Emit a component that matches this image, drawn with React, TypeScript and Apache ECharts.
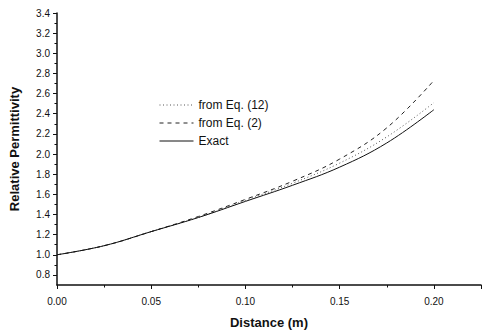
import React, { useEffect, useRef } from "react";
import * as echarts from "echarts";

const distance = [0, 0.025, 0.05, 0.075, 0.1, 0.125, 0.15, 0.175, 0.2];
const eq12 = [1.0, 1.09, 1.23, 1.37, 1.54, 1.71, 1.91, 2.17, 2.51];
const eq2 = [1.0, 1.09, 1.23, 1.38, 1.55, 1.73, 1.95, 2.26, 2.73];
const exact = [1.0, 1.09, 1.23, 1.37, 1.53, 1.69, 1.87, 2.11, 2.44];
const seriesNames = ["from Eq. (12)", "from Eq. (2)", "Exact"];
const yMajorTicks = [0.8, 1.0, 1.2, 1.4, 1.6, 1.8, 2.0, 2.2, 2.4, 2.6, 2.8, 3.0, 3.2, 3.4];
const yMinorTicks = [0.9, 1.1, 1.3, 1.5, 1.7, 1.9, 2.1, 2.3, 2.5, 2.7, 2.9, 3.1, 3.3];

const FONT = "Liberation Sans, Arial, sans-serif";

export default function App() {
  const ref = useRef<HTMLDivElement>(null);
  useEffect(() => {
    if (!ref.current) return;
    const chart = echarts.init(ref.current, null, { renderer: "svg" });
    const pairs = (ys: number[]) => distance.map((x, i) => [x, ys[i]]);
    const mk = (name: string, ys: number[], type: any, color: string) => ({
      name,
      type: "line",
      data: pairs(ys),
      smooth: 0.4,
      showSymbol: false,
      symbol: "none",
      lineStyle: { color, width: 1, type },
      itemStyle: { color },
    });
    const yBase = {
      type: "value",
      min: 0.7,
      max: 3.4,
      position: "left",
      splitLine: { show: false },
    };
    chart.setOption({
      animation: false,
      backgroundColor: "#fff",
      textStyle: { fontFamily: FONT },
      grid: { left: 57, right: 1, top: 13, bottom: 48 },
      legend: {
        orient: "vertical",
        left: 154,
        top: 94,
        itemWidth: 34,
        itemHeight: 14,
        itemGap: 6,
        itemStyle: { opacity: 0 },
        lineStyle: { width: 1 },
        textStyle: { fontFamily: FONT, fontSize: 12, color: "#111" },
        data: seriesNames,
      },
      xAxis: {
        type: "value",
        min: 0,
        max: 0.225,
        interval: 0.05,
        name: "Distance (m)",
        nameLocation: "middle",
        nameGap: 31,
        nameTextStyle: { fontFamily: FONT, fontSize: 13, fontWeight: "bold", color: "#111" },
        axisLine: { lineStyle: { color: "#111", width: 1.5 } },
        axisTick: { show: true, inside: false, length: 4, lineStyle: { color: "#111" } },
        minorTick: { show: true, splitNumber: 2, length: 2.5, lineStyle: { color: "#111" } },
        splitLine: { show: false },
        axisLabel: {
          fontFamily: FONT,
          fontSize: 10,
          color: "#111",
          margin: 11,
          formatter: (v: number) => (v > 0.21 ? "" : v.toFixed(2)),
        },
      },
      yAxis: [
        {
          ...yBase,
          name: "Relative Permittivity",
          nameLocation: "middle",
          nameGap: 36,
          nameTextStyle: { fontFamily: FONT, fontSize: 13, fontWeight: "bold", color: "#111" },
          axisLine: { show: true, lineStyle: { color: "#111", width: 1.5 } },
          axisTick: {
            show: true,
            inside: false,
            length: 4,
            customValues: yMajorTicks,
            lineStyle: { color: "#111" },
          },
          axisLabel: {
            fontFamily: FONT,
            fontSize: 10,
            color: "#111",
            margin: 7,
            customValues: yMajorTicks,
            formatter: (v: number) => v.toFixed(1),
          },
        },
        {
          ...yBase,
          axisLine: { show: false },
          axisTick: {
            show: true,
            inside: false,
            length: 2.5,
            customValues: yMinorTicks,
            lineStyle: { color: "#111" },
          },
          axisLabel: { show: false },
        },
      ],
      series: [
        mk(seriesNames[0], eq12, [1, 2.5], "#555"),
        mk(seriesNames[1], eq2, [4, 4], "#222"),
        mk(seriesNames[2], exact, "solid", "#111"),
      ],
    });
    return () => chart.dispose();
  }, []);
  return (
    <div
      ref={ref}
      style={{ position: "fixed", left: 0, top: 0, width: 484, height: 334 }}
    />
  );
}
